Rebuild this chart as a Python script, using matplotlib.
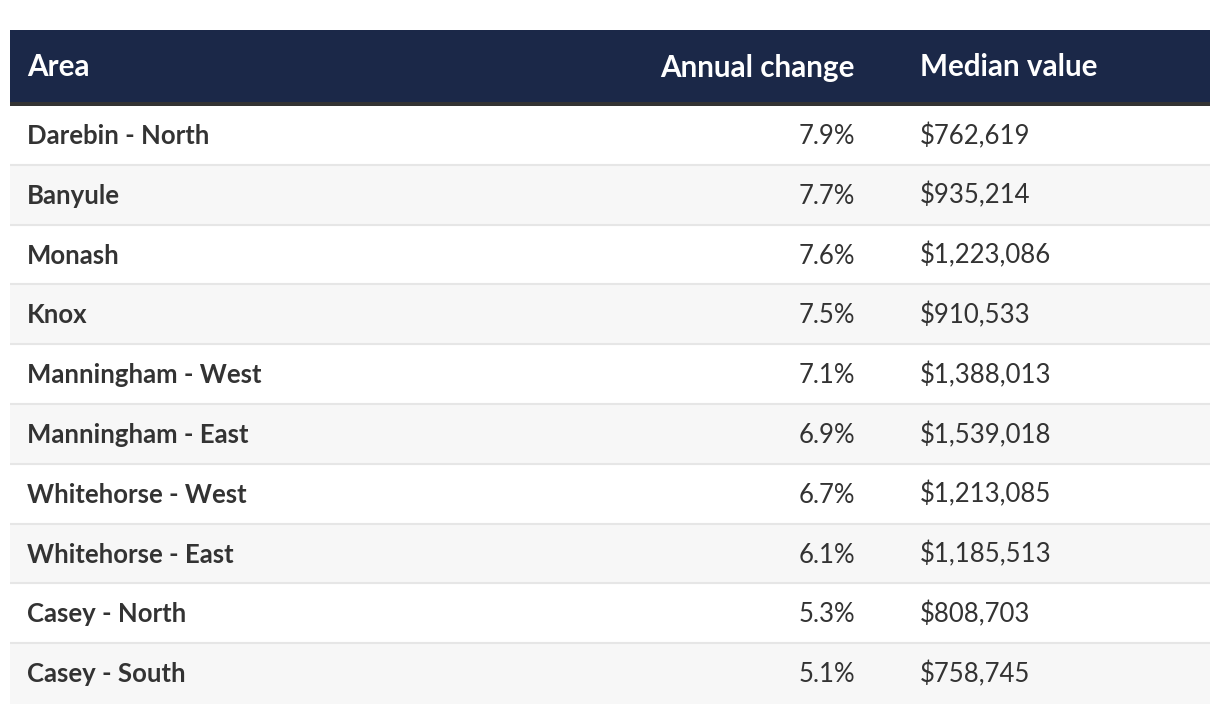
import matplotlib
matplotlib.use("Agg")
import matplotlib.pyplot as plt

# Данные таблицы
areas = ["Darebin - North", "Banyule", "Monash", "Knox", "Manningham - West",
         "Manningham - East", "Whitehorse - West", "Whitehorse - East",
         "Casey - North", "Casey - South"]
annual_change = [7.9, 7.7, 7.6, 7.5, 7.1, 6.9, 6.7, 6.1, 5.3, 5.1]
median_value = [762619, 935214, 1223086, 910533, 1388013, 1539018,
                1213085, 1185513, 808703, 758745]
headers = ["Area", "Annual change", "Median value"]

W, H = 1220, 714
plt.rcParams['font.family'] = ['Lato', 'DejaVu Sans']

fig = plt.figure(figsize=(W / 100, H / 100), dpi=100)
ax = fig.add_axes([0, 0, 1, 1])
ax.set_xlim(0, W)
ax.set_ylim(H, 0)
ax.axis("off")

left, right = 10, 1210
head_top, head_bot = 30, 102
body_top = 106
row_h = 59.8
text_col = "#333333"
body_fs = 18.5
head_fs = 21.3

# шапка
ax.add_patch(plt.Rectangle((left, head_top), right - left, head_bot - head_top,
                           color="#1b2848", lw=0))
ax.add_patch(plt.Rectangle((left, head_bot), right - left, body_top - head_bot,
                           color="#333333", lw=0))
head_base = 76.5
ax.text(27, head_base, headers[0], color="white", fontsize=head_fs, fontweight="bold", va="baseline")
ax.text(855, head_base, headers[1], color="white", fontsize=head_fs, fontweight="bold",
        va="baseline", ha="right")
ax.text(920, head_base, headers[2], color="white", fontsize=head_fs, fontweight="bold", va="baseline")

# строки
n = len(areas)
centers = [body_top + row_h * (i + 0.5) for i in range(n)]
stripe = ["white" if i % 2 == 0 else "#f7f7f7" for i in range(n)]
ax.barh(centers, right - left, left=left, height=row_h, color=stripe, lw=0)

for i in range(n):
    top = body_top + row_h * i
    if i > 0:
        ax.plot([left, right], [top - 1, top - 1], color="#e6e6e6", lw=1.5,
                solid_capstyle="butt")
    base = top + 38
    ax.text(27, base, areas[i], color=text_col, fontsize=body_fs, fontweight="bold", va="baseline")
    ax.text(855, base, f"{annual_change[i]:.1f}%", color=text_col, fontsize=body_fs,
            va="baseline", ha="right")
    ax.text(920, base, f"${median_value[i]:,}", color=text_col, fontsize=body_fs, va="baseline")

fig.savefig("out.png", dpi=100)
